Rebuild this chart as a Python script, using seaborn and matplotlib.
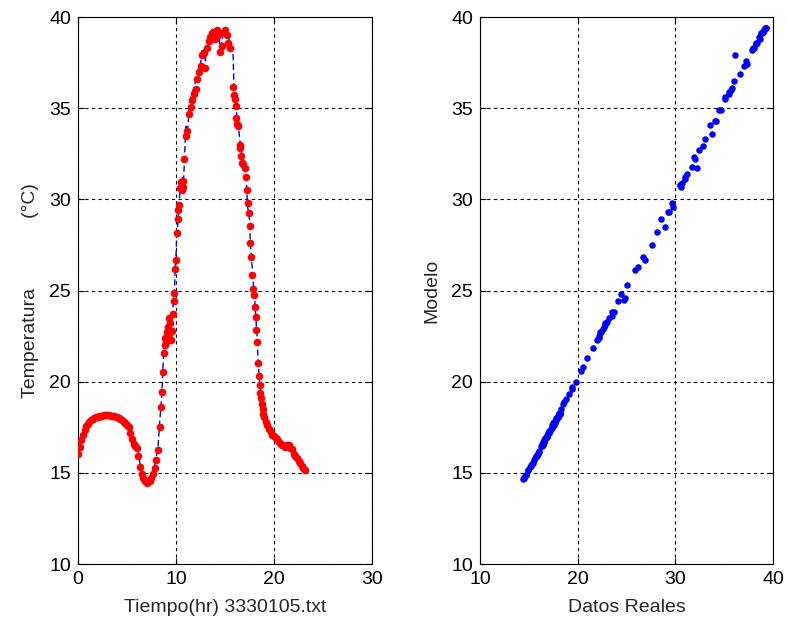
import matplotlib
matplotlib.use("Agg")
import matplotlib.pyplot as plt
import numpy as np
import pandas as pd
import seaborn as sns

# ---- data (hours, measured temperature, model temperature) ----
t1 = [0.0, 0.17, 0.33, 0.5, 0.67, 0.83, 1.0, 1.17, 1.33, 1.5, 1.67, 1.83, 2.0, 2.17, 2.33, 2.5, 2.67, 2.83,
      3.0, 3.17, 3.33, 3.5, 3.67, 3.83, 4.0, 4.17, 4.33, 4.5, 4.67, 4.83, 5.0, 5.17, 5.33, 5.5, 5.67, 5.83]
med1 = [16.05, 16.4, 16.8, 17.1, 17.35, 17.55, 17.7, 17.8, 17.88, 17.95, 18.0, 18.05, 18.08, 18.1, 18.12, 18.14,
        18.15, 18.16, 18.17, 18.15, 18.13, 18.12, 18.1, 18.07, 18.04, 18.0, 17.95, 17.88, 17.8, 17.72, 17.65, 17.5,
        17.2, 16.85, 16.6, 16.45]
mod1 = [16.15, 16.5, 16.9, 17.2, 17.45, 17.65, 17.8, 17.9, 18.0, 18.05, 18.1, 18.15, 18.2, 18.2, 18.25, 18.25,
        18.25, 18.3, 18.3, 18.25, 18.25, 18.2, 18.2, 18.15, 18.15, 18.1, 18.05, 18.0, 17.9, 17.85, 17.75, 17.6,
        17.3, 16.95, 16.7, 16.55]

t2 = [6.0, 6.17, 6.33, 6.5, 6.67, 6.83, 7.0, 7.17, 7.33, 7.5, 7.67, 7.83, 8.0, 8.17, 8.33, 8.5]
med2 = [16.35, 15.9, 15.3, 14.95, 14.7, 14.55, 14.45, 14.5, 14.55, 14.7, 14.95, 15.25, 15.7, 16.25, 17.5, 18.6]
mod2 = [16.5, 16.1, 15.5, 15.15, 14.9, 14.75, 14.65, 14.7, 14.7, 14.9, 15.15, 15.45, 15.9, 16.45, 17.75, 18.9]

t3 = [8.58, 8.67, 8.75, 8.83, 8.92, 9.0, 9.08, 9.17, 9.25, 9.33, 9.42, 9.5, 9.58, 9.67, 9.75, 9.83, 9.92, 10.0,
      10.08, 10.17, 10.25, 10.33, 10.42, 10.5, 10.58, 10.67, 10.75, 10.83]
med3 = [19.45, 20.55, 21.55, 22.0, 22.4, 22.15, 22.7, 23.0, 22.6, 23.5, 23.2, 22.3, 22.8, 23.7, 24.4, 24.85, 26.2,
        26.7, 28.15, 28.9, 29.4, 29.7, 30.6, 30.95, 30.5, 31.0, 30.7, 32.2]
mod3 = [19.6, 20.8, 21.85, 22.3, 22.7, 22.5, 23.0, 23.3, 22.9, 23.6, 23.5, 22.7, 23.1, 23.8, 24.8, 24.6, 26.3,
        26.85, 28.2, 28.5, 29.3, 29.8, 30.7, 31.1, 30.8, 31.2, 30.9, 31.7]

t4 = [11.0, 11.17, 11.33, 11.5, 11.67, 11.83, 12.0, 12.17, 12.33, 12.5, 12.67, 12.83, 13.0, 13.17, 13.33, 13.5,
      13.67, 13.83, 14.0, 14.17, 14.33, 14.5, 14.67, 14.83, 15.0, 15.17, 15.33, 15.5]
med4 = [33.5, 33.75, 34.7, 35.05, 35.45, 35.8, 36.05, 36.6, 37.0, 37.3, 37.9, 38.0, 37.2, 38.3, 38.7, 38.9, 39.1,
        39.2, 38.8, 39.3, 39.0, 38.1, 38.4, 39.1, 39.3, 39.0, 38.6, 38.3]
mod4 = [34.1, 33.6, 34.9, 35.6, 35.9, 36.1, 36.5, 36.9, 37.3, 37.4, 38.2, 38.3, 37.6, 38.5, 38.8, 39.1, 39.3,
        39.4, 39.1, 39.4, 39.2, 38.3, 38.6, 39.3, 39.4, 39.2, 38.9, 38.6]

t5 = [15.83, 15.92, 16.0, 16.08, 16.17, 16.25, 16.33, 16.5, 16.58, 16.67, 16.75, 16.83, 17.0, 17.1, 17.2, 17.3,
      17.4, 17.5, 17.6, 17.7, 17.8, 17.9, 17.97, 18.05, 18.12, 18.2, 18.28, 18.36, 18.44, 18.52, 18.6, 18.68,
      18.76, 18.84, 18.92]
med5 = [36.15, 35.7, 35.5, 35.1, 34.45, 34.15, 34.05, 33.0, 32.8, 32.4, 32.0, 31.95, 31.7, 31.2, 30.5, 29.8,
        29.25, 28.55, 27.6, 26.85, 25.85, 25.1, 24.75, 24.1, 23.55, 22.85, 22.2, 21.0, 20.3, 19.8, 19.4, 19.1,
        18.8, 18.5, 18.25]
mod5 = [37.9, 36.0, 35.8, 35.5, 34.9, 34.3, 34.3, 33.3, 32.9, 32.7, 32.2, 32.3, 31.8, 31.4, 30.8, 29.6,
        29.3, 28.9, 27.5, 26.7, 26.1, 25.3, 24.5, 24.4, 23.8, 23.2, 22.4, 21.3, 20.6, 20.0, 19.7, 19.35,
        19.05, 18.8, 18.5]

t6 = [19.0, 19.17, 19.33, 19.5, 19.67, 19.83, 20.0, 20.17, 20.33, 20.5, 20.67, 20.83, 21.0, 21.17, 21.33, 21.5,
      21.67, 21.83, 22.0, 22.17, 22.33, 22.5, 22.67, 22.83, 23.0, 23.17]
med6 = [18.05, 17.8, 17.6, 17.4, 17.25, 17.1, 17.0, 16.9, 16.85, 16.7, 16.6, 16.5, 16.45, 16.4, 16.55, 16.5,
        16.38, 16.3, 16.05, 15.9, 15.8, 15.65, 15.55, 15.4, 15.25, 15.15]
mod6 = [18.25, 18.0, 17.8, 17.6, 17.4, 17.3, 17.2, 17.05, 17.0, 16.9, 16.8, 16.7, 16.6, 16.55, 16.7, 16.65,
        16.5, 16.45, 16.2, 16.05, 15.95, 15.8, 15.7, 15.55, 15.4, 15.3]

x_ticks_left = [0, 10, 20, 30]
x_ticks_right = [10, 20, 30, 40]
y_ticks = [10, 15, 20, 25, 30, 35, 40]

df = pd.DataFrame({
    "tiempo": t1 + t2 + t3 + t4 + t5 + t6,
    "medido": med1 + med2 + med3 + med4 + med5 + med6,
    "modelo": mod1 + mod2 + mod3 + mod4 + mod5 + mod6,
})

sns.set_style("white")
plt.rcParams["font.family"] = ["Liberation Sans", "DejaVu Sans"]
FS = 14

fig = plt.figure(figsize=(7.87, 6.28), dpi=100)
ax1 = fig.add_axes([0.0991, 0.1019, 0.3736, 0.871])
ax2 = fig.add_axes([0.6099, 0.1019, 0.3723, 0.871])

sns.lineplot(data=df, x="tiempo", y="modelo", ax=ax1, color="#0000ff", linewidth=1.0,
             sort=False, estimator=None, linestyle=(0, (4.5, 2.5)), zorder=2)
sns.scatterplot(data=df, x="tiempo", y="medido", ax=ax1, color="#ff0000", s=30,
                linewidth=0, zorder=3)
sns.scatterplot(data=df, x="medido", y="modelo", ax=ax2, color="#0000ff", s=22,
                linewidth=0, zorder=3)

for ax, xt in ((ax1, x_ticks_left), (ax2, x_ticks_right)):
    ax.set_xlim(xt[0], xt[-1])
    ax.set_ylim(y_ticks[0], y_ticks[-1])
    ax.set_xticks(xt)
    ax.set_yticks(y_ticks)
    ax.grid(True, color="black", linestyle=(0, (3, 3)), linewidth=0.8)
    ax.set_axisbelow(True)
    for sp in ax.spines.values():
        sp.set_color("black")
        sp.set_linewidth(0.8)
        sp.set_visible(True)
    ax.tick_params(direction="in", length=4, width=0.8, top=True, right=True,
                   bottom=True, left=True, labelsize=FS, colors="black", pad=5)

ax1.set_xlabel("Tiempo(hr) 3330105.txt", fontsize=FS, labelpad=8)
ax1.set_ylabel("Temperatura             (°C)", fontsize=FS, labelpad=7)
ax2.set_xlabel("Datos Reales", fontsize=FS, labelpad=8)
ax2.set_ylabel("Modelo", fontsize=FS, labelpad=8)

fig.savefig("out.png", dpi=100, facecolor="white")
